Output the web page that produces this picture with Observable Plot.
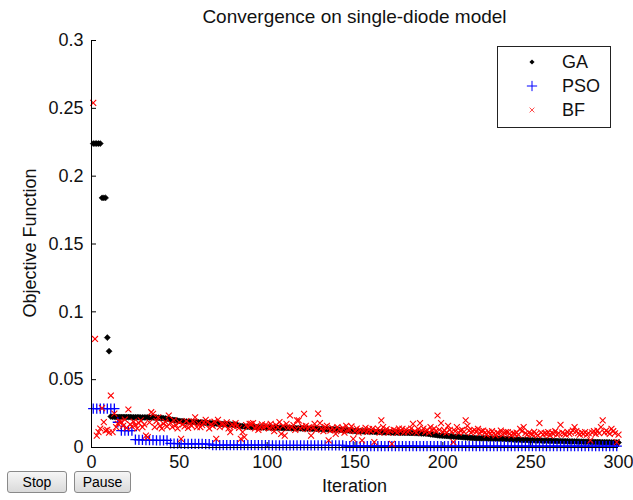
<!DOCTYPE html>
<html>
<head>
<meta charset="utf-8">
<script src="https://cdn.jsdelivr.net/npm/d3@7"></script>
<script src="https://cdn.jsdelivr.net/npm/@observablehq/plot@0.6"></script>
<style>
  html, body { margin: 0; padding: 0; background: #fff; }
  #wrap { position: relative; width: 633px; height: 500px; overflow: hidden; background: #fff;
          font-family: "Liberation Sans", Arial, sans-serif; color: #111; }
  #chart { position: absolute; left: 0; top: 0; }
  .title { position: absolute; left: 91px; width: 527px; top: 6px; text-align: center; font-size: 19px; }
  .xlabel { position: absolute; left: 91px; width: 527px; top: 476px; text-align: center; font-size: 18px; }
  .ylabel { position: absolute; left: 30px; top: 243px; transform: translate(-50%, -50%) rotate(-90deg);
            white-space: nowrap; font-size: 18px; }
  #legend { position: absolute; left: 497px; top: 46px; }
  .btn { position: absolute; top: 471px; height: 22px; box-sizing: border-box; border: 1px solid #8a8a8a;
         border-radius: 3px; background: linear-gradient(#f6f6f6, #dadada); font-size: 14px;
         display: flex; align-items: center; justify-content: center; color: #000; }
</style>
</head>
<body>
<div id="wrap">
  <div id="chart"></div>
  <div class="title">Convergence on single-diode model</div>
  <div class="xlabel">Iteration</div>
  <div class="ylabel">Objective Function</div>
  <svg id="legend" width="114" height="82"></svg>
  <div class="btn" style="left:7px;width:60px;">Stop</div>
  <div class="btn" style="left:74px;width:57px;">Pause</div>
</div>
<script>
// ---- data (objective values in units of 1e-4) ----
const seriesNames = ["GA", "PSO", "BF"];
const seriesColors = ["#000000", "#0000ff", "#ff0000"];
const xTicks = [0, 50, 100, 150, 200, 250, 300];
const yTicks = [0, 0.05, 0.1, 0.15, 0.2, 0.25, 0.3];
const yTickLabels = ["0", "0.05", "0.1", "0.15", "0.2", "0.25", "0.3"];

const gaIterations = d3.range(1, 301);
const psoIterations = d3.range(1, 300, 2);
const bfIterations = d3.range(1, 301);

const GA = [
  2240,2240,2240,2240,2240,1840,1840,1840,810,710,
  228,226,226,225,225,225,225,224,224,224,
  224,224,223,223,223,223,223,222,222,222,
  222,222,222,221,221,221,220,220,218,218,
  216,214,212,210,206,204,202,200,198,196,
  194,193,192,191,190,190,189,188,187,186,
  186,185,184,183,182,181,180,179,178,177,
  176,175,175,174,173,172,171,170,170,169,
  168,167,166,160,158,156,155,154,153,152,
  152,151,151,150,150,149,149,148,148,147,
  147,146,146,146,145,145,145,144,144,144,
  143,143,143,142,142,142,141,141,141,140,
  140,140,139,139,139,138,138,138,137,137,
  137,136,136,135,135,134,134,133,133,132,
  131,130,129,128,127,126,125,124,123,122,
  121,120,120,119,119,118,118,117,117,116,
  116,115,115,114,114,113,113,112,112,111,
  111,110,110,110,109,109,109,108,108,108,
  107,107,107,106,106,105,105,104,104,103,
  102,100,98,96,94,92,90,89,88,87,
  86,85,84,83,82,81,80,79,78,77,
  76,75,74,73,72,71,70,70,69,69,
  69,68,68,68,67,67,67,66,66,66,
  65,65,64,64,63,63,62,61,60,59,
  58,58,57,57,56,56,55,55,54,54,
  53,53,52,52,51,51,50,50,50,49,
  49,49,48,48,48,47,47,47,46,46,
  46,45,45,45,44,44,44,43,43,43,
  42,42,42,41,41,41,40,40,40,39,
  39,39,38,38,38,37,37,37,36,36
];

const PSO = [
  287,287,287,287,287,287,287,186,125,125,
  125,125,58,57,56,55,54,54,53,53,
  52,52,30,29,28,28,27,27,27,26,
  26,26,25,25,18,18,18,18,18,18,
  17,17,17,17,17,17,17,17,17,17,
  17,16,16,16,16,16,16,16,16,16,
  16,16,15,15,15,15,15,15,15,15,
  15,15,11,11,11,11,11,11,11,11,
  11,11,11,11,11,11,11,11,11,11,
  11,11,10,10,10,10,10,10,10,10,
  10,10,10,10,10,10,10,10,10,10,
  10,10,10,10,10,10,10,10,10,10,
  10,10,10,10,10,10,10,10,10,10,
  10,10,10,10,10,10,10,10,10,10,
  10,10,10,10,10,10,10,10,10,10
];

const BF = [
  2540,800,88,113,140,290,187,125,130,110,
  383,113,250,150,175,190,187,160,205,145,
  280,170,155,190,165,140,180,200,150,170,
  88,76,185,260,248,150,195,223,160,140,
  175,190,155,236,180,150,200,165,140,185,
  64,170,155,195,145,175,160,190,223,150,
  175,150,165,185,204,187,140,170,160,190,
  64,204,150,175,174,160,185,140,113,170,
  155,180,160,145,64,113,76,165,150,175,
  174,180,140,160,130,150,170,145,165,160,
  140,174,155,120,165,150,187,100,160,88,
  174,145,236,150,165,130,200,200,140,155,
  248,160,135,150,88,145,174,130,250,180,
  140,120,150,160,52,125,145,130,100,150,
  135,120,145,110,160,125,130,155,64,120,
  140,110,130,52,125,145,115,135,120,138,
  40,125,140,110,200,150,120,135,110,125,
  27,130,125,110,140,120,138,113,130,115,
  125,140,174,120,110,135,180,125,140,115,
  130,110,150,125,140,120,236,130,180,115,
  125,110,160,130,115,40,120,150,110,125,
  130,115,200,160,125,110,120,130,115,138,
  105,120,125,110,95,115,100,120,105,90,
  110,100,125,95,110,113,113,100,90,105,
  100,110,95,138,120,150,105,95,110,100,
  95,115,100,90,180,110,95,105,100,113,
  90,110,100,120,95,105,167,110,100,95,
  115,100,110,125,150,120,105,95,110,100,
  113,95,105,52,110,120,100,125,105,150,
  200,110,125,113,100,138,120,105,40,95
];

const toRows = (iters, vals) => vals.map((v, i) => ({x: iters[i], y: v / 1e4}));
const ga = toRows(gaIterations, GA);
const pso = toRows(psoIterations, PSO);
const bf = toRows(bfIterations, BF);

const W = 633, H = 500, mL = 91, mR = 15, mT = 40, mB = 53;
const FONT = "'Liberation Sans', Arial, sans-serif";

const chart = Plot.plot({
  width: W, height: H,
  marginLeft: mL, marginRight: mR, marginTop: mT, marginBottom: mB,
  x: {domain: [0, 300]},
  y: {domain: [0, 0.3]},
  style: {fontFamily: FONT, fontSize: "18px", color: "#111", background: "transparent"},
  marks: [
    Plot.axisX({ticks: xTicks, tickSize: 0, tickPadding: 8, label: null, fontSize: 18}),
    Plot.axisY({ticks: yTicks, tickSize: 0, tickPadding: 8, label: null, fontSize: 18,
                tickFormat: d => yTickLabels[yTicks.indexOf(d)]}),
    Plot.tickX(xTicks, {x: d => d, insetTop: (H - mT - mB) - 5, stroke: "#000"}),
    Plot.tickY(yTicks, {y: d => d, insetRight: (W - mL - mR) - 5, stroke: "#000"}),
    Plot.dot(ga, {x: "x", y: "y", symbol: "diamond2", r: 2.7, fill: seriesColors[0], stroke: seriesColors[0], strokeWidth: 0.6}),
    Plot.dot(pso, {x: "x", y: "y", symbol: "plus", r: 3.4, stroke: seriesColors[1], strokeWidth: 1.3}),
    Plot.dot(bf, {x: "x", y: "y", symbol: "times", r: 2.8, stroke: seriesColors[2], strokeWidth: 1.1}),
    Plot.ruleX([0], {stroke: "#000"}),
    Plot.ruleY([0], {stroke: "#000"})
  ]
});
document.getElementById("chart").appendChild(chart);

// ---- legend ----
const leg = d3.select("#legend");
leg.append("rect").attr("x", 0.5).attr("y", 0.5).attr("width", 113).attr("height", 81)
  .attr("fill", "#fff").attr("stroke", "#222");
const symbols = [d3.symbolDiamond2, d3.symbolPlus, d3.symbolTimes];
const sizes = [2.3 * 2.3 * Math.PI, 3.4 * 3.4 * Math.PI, 2.3 * 2.3 * Math.PI];
seriesNames.forEach((name, i) => {
  const cy = 16 + i * 24;
  const p = leg.append("path").attr("transform", `translate(35,${cy})`)
    .attr("d", d3.symbol(symbols[i], sizes[i])());
  if (i === 0) p.attr("fill", seriesColors[i]);
  else p.attr("fill", "none").attr("stroke", seriesColors[i]).attr("stroke-width", 1)
        .attr("stroke-opacity", i === 2 ? 0.7 : 1);
  leg.append("text").attr("x", 65).attr("y", cy).attr("dy", "0.35em")
    .attr("font-family", FONT).attr("font-size", 18).attr("fill", "#111").text(name);
});
</script>
</body>
</html>
